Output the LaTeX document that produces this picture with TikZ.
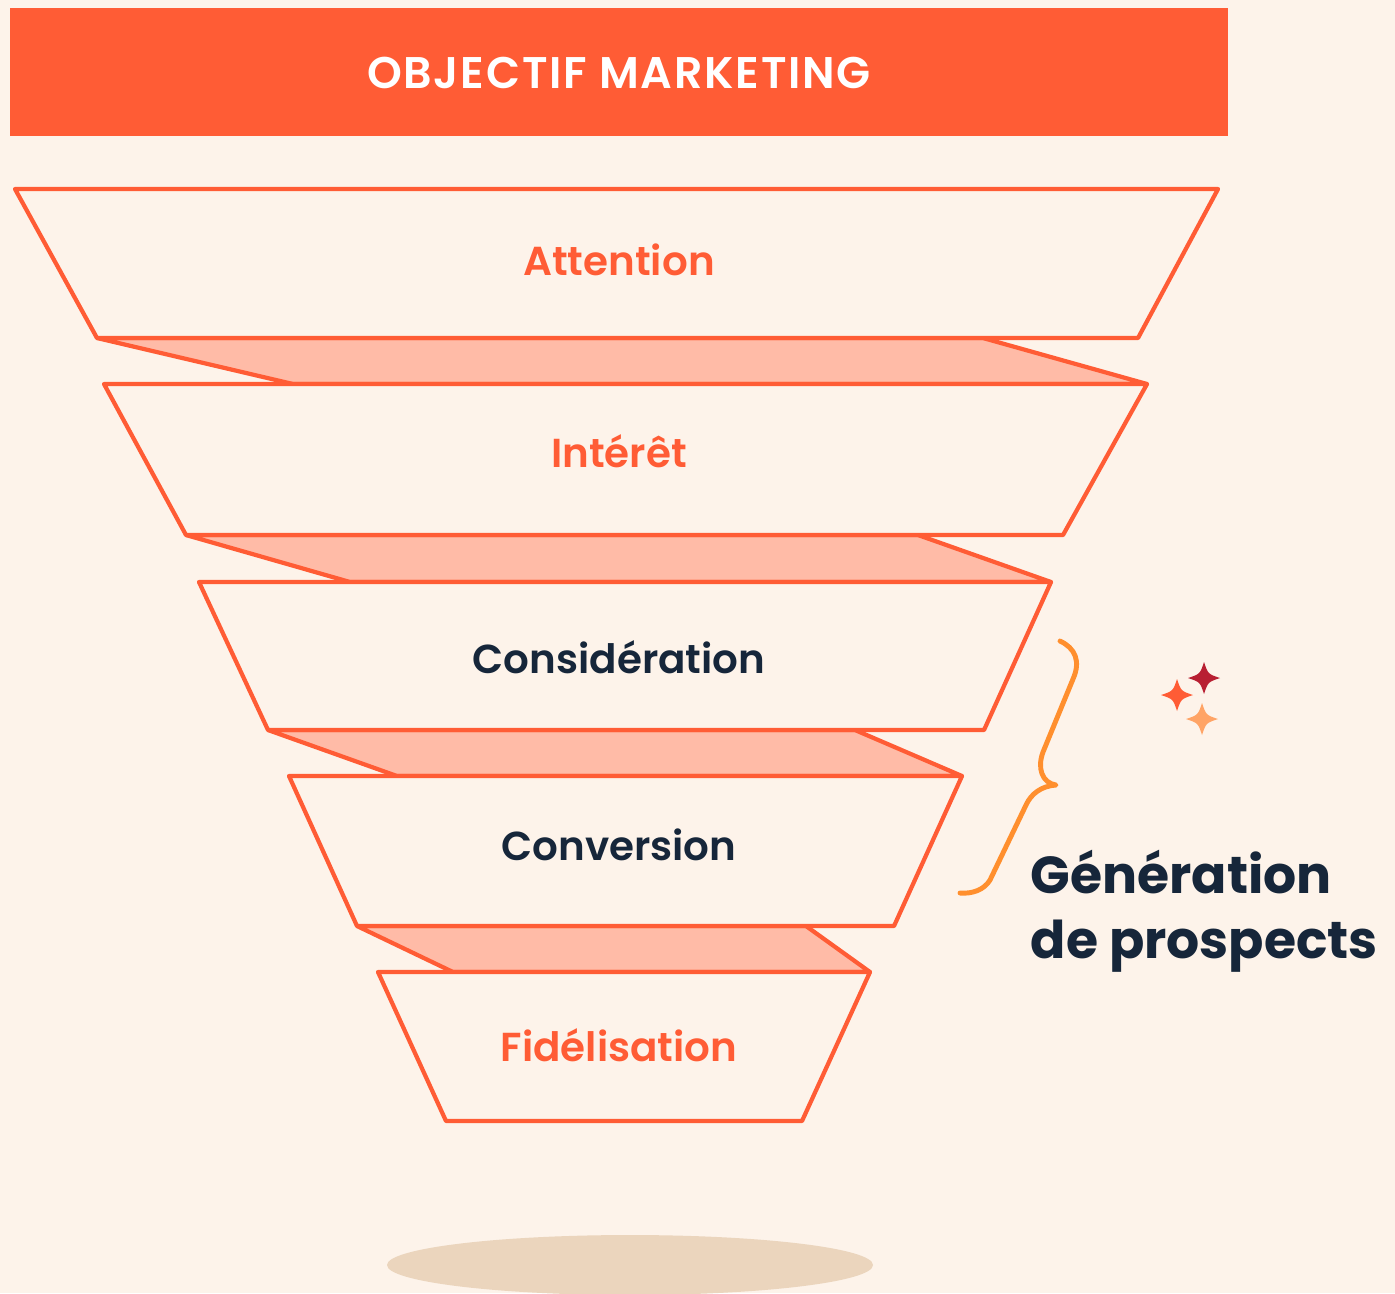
\documentclass[tikz,border=0pt]{standalone}
\usepackage{fontspec}
\setmainfont{Poppins}[BoldFont=Poppins SemiBold]
\newfontfamily\headfont{Poppins}[BoldFont=Poppins SemiBold, LetterSpace=4]
\newfontfamily\leadfont{Poppins Bold}

\definecolor{bg}{HTML}{FDF3EA}
\definecolor{hsorange}{HTML}{FF5C35}
\definecolor{band}{HTML}{FFBBA7}
\definecolor{ink}{HTML}{16263A}
\definecolor{bracecol}{HTML}{FF8F2E}
\definecolor{sparkdark}{HTML}{B81F32}
\definecolor{sparklight}{HTML}{FFA466}
\definecolor{shadow}{HTML}{EBD5BD}

\tikzset{
  stage/.style={draw=hsorange, fill=bg, line width=1.2pt, line join=round},
  gap/.style={draw=hsorange, fill=band, line width=1.2pt, line join=round},
  stagetext/.style={anchor=base, font=\bfseries\fontsize{11.5}{14}\selectfont},
  leadtext/.style={anchor=base west, inner sep=0pt, text=ink, font=\leadfont\fontsize{14.8}{18}\selectfont},
  sparkle/.pic={\fill[#1] (0,16) .. controls (4,4) .. (16,0) .. controls (4,-4) .. (0,-16)
                 .. controls (-4,-4) .. (-16,0) .. controls (-4,4) .. cycle;}
}

\begin{document}
\begin{tikzpicture}[x=0.01cm, y=-0.01cm]
    \fill[bg] (0,0) rectangle (1395,1293);
    \useasboundingbox (0,0) rectangle (1395,1293);

    % shadow under the funnel
    \fill[shadow] (630,1265) ellipse [x radius=243, y radius=30];

    % title bar
    \fill[hsorange] (10,8) rectangle (1228,136);
    \node[anchor=base, text=white, font=\headfont\bfseries\fontsize{12.6}{14}\selectfont] (title) at (619,88) {OBJECTIF MARKETING};

    % slices between the stages
    \foreach \ya/\yb/\xa/\xb/\xc/\xd in {338/384/97/983/1147/293, 535/582/186/918/1051/350,
                                        730/776/268/855/962/397, 926/972/357/806/870/453} {
        \draw[gap] (\xa,\ya) -- (\xb,\ya) -- (\xc,\yb) -- (\xd,\yb) -- cycle;
    }

    % the stages
    \foreach \ya/\yb/\xa/\xb/\xc/\xd in {189/338/15/1218/97/1138, 384/535/104/1147/186/1063,
                                        582/730/199/1051/268/984, 776/926/289/962/357/894,
                                        972/1121/378/870/446/802} {
        \draw[stage] (\xa,\ya) -- (\xb,\ya) -- (\xd,\yb) -- (\xc,\yb) -- cycle;
    }

    \node[stagetext, text=hsorange] (attention)  at (619,275)  {Attention};
    \node[stagetext, text=hsorange] (interet)    at (619,467)  {Intérêt};
    \node[stagetext, text=ink]      (consid)     at (619,673)  {Considération};
    \node[stagetext, text=ink]      (conversion) at (619,860)  {Conversion};
    \node[stagetext, text=hsorange] (fidel)      at (619,1061) {Fidélisation};

    % brace
    \draw[bracecol, line width=1.4pt, line cap=round, line join=round]
        (1060,641) .. controls (1075,648) and (1081,661) .. (1073,679) -- (1043,752)
        .. controls (1037,768) and (1042,783) .. (1056,785)
        .. controls (1041,786) and (1031,794) .. (1026,805) -- (990,880)
        .. controls (984,890) and (972,894) .. (960,893);

    \pic at (1204,678) {sparkle=sparkdark};
    \pic at (1177,695) {sparkle=hsorange};
    \pic at (1202,719) {sparkle=sparklight};

    \node[leadtext] (gen)  at (1030,893) {Génération};
    \node[leadtext] (pros) at (1030,958) {de prospects};
\end{tikzpicture}
\end{document}
